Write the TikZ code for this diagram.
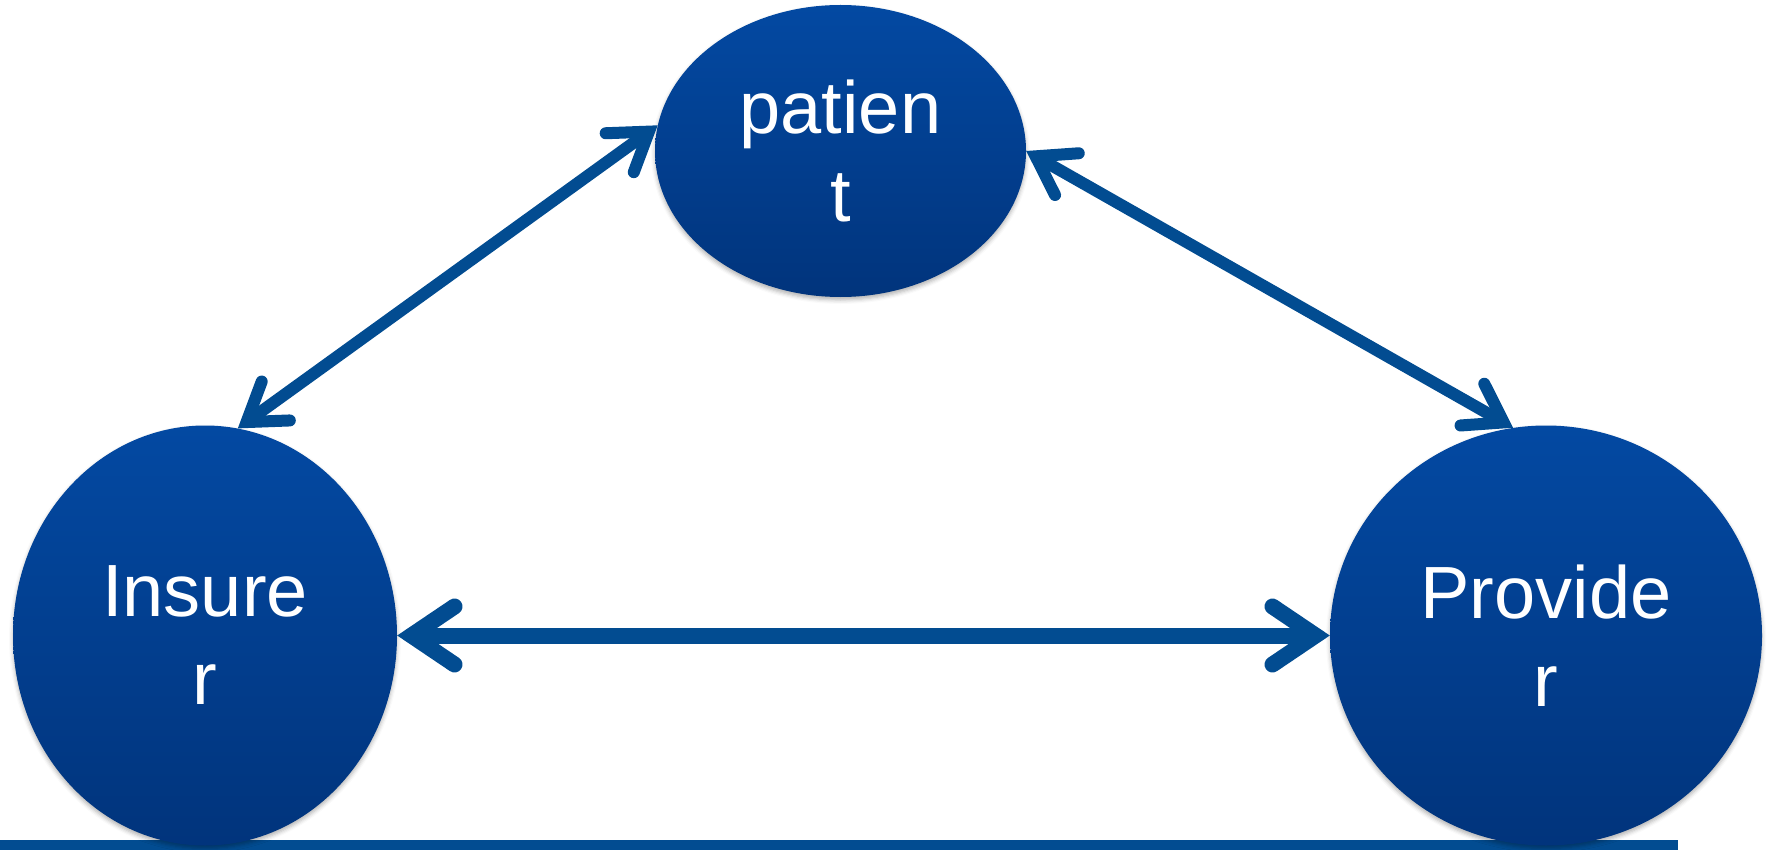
\documentclass[tikz,border=0pt]{standalone}
\usepackage{fontspec}
\setmainfont{Liberation Sans}
\usetikzlibrary{arrows.meta,shapes.geometric,shadows.blur}
\definecolor{nodetop}{RGB}{3,73,162}
\definecolor{nodebot}{RGB}{1,52,124}
\definecolor{linkblue}{RGB}{2,76,145}
\begin{document}
\begin{tikzpicture}[x=1pt,y=-1pt,
  party/.style={ellipse, inner sep=0pt, draw=none,
    top color=nodetop, bottom color=nodebot,
    text=white, align=center, font=\fontsize{74}{88}\selectfont,
    blur shadow={shadow xshift=0pt, shadow yshift=-3pt,
      shadow blur radius=4pt, shadow opacity=30}},
  link/.style={draw=linkblue, line width=12pt,
    >={Straight Barb[length=36pt,width=48pt,line cap=round,line join=miter]}, <->,
    preaction={draw=black, draw opacity=0.14,
      transform canvas={shift={(2pt,-3pt)}}}},
  hlink/.style={link, line width=16pt,
    >={Straight Barb[length=43pt,width=58pt,line cap=round,line join=miter]}},
]
\useasboundingbox (0,0) rectangle (1768,850);

% base bar along the bottom edge
\fill[linkblue] (0,840) rectangle (1678,850);

% the three parties
\node[party, minimum width=371pt, minimum height=292pt] (patient) at (840.5,151) {patien\\t};
\node[party, minimum width=384pt, minimum height=420pt] (insurer) at (205,635.5) {Insure\\r};
\node[party, minimum width=432pt, minimum height=420pt] (provider) at (1546,635.5) {Provide\\r};

% two-way relations
\draw[link] (patient.172) -- (insurer.81);
\draw[link] (patient.east) -- (provider.99);
\draw[hlink] (insurer.east) -- (provider.west);
\end{tikzpicture}
\end{document}
